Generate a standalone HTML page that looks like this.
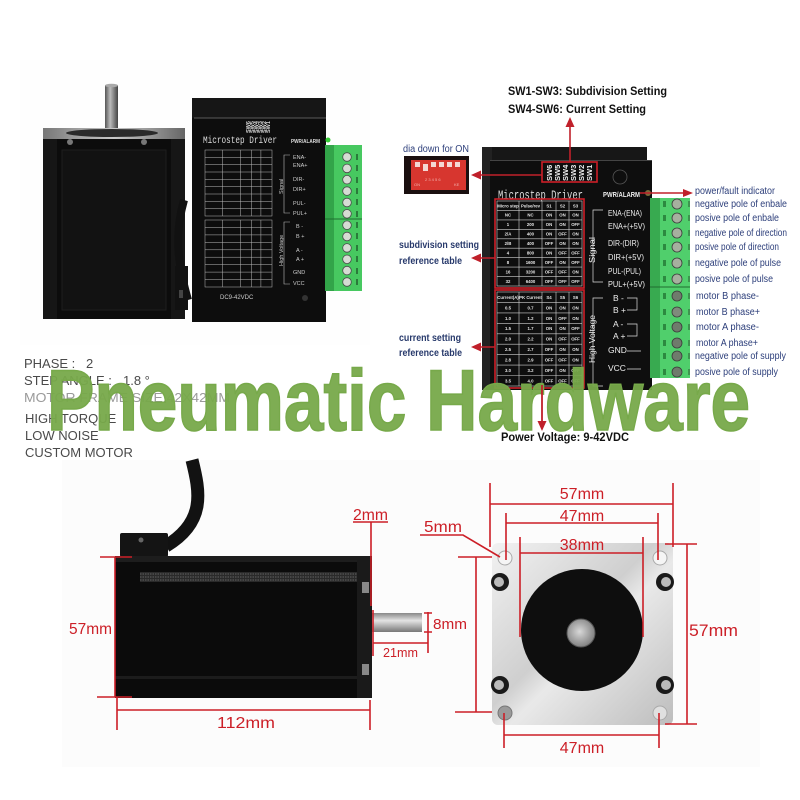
<!DOCTYPE html>
<html><head><meta charset="utf-8"><title>Stepper motor and driver</title>
<style>html,body{margin:0;padding:0;background:#fff}svg{display:block}</style></head>
<body>
<svg width="800" height="800" viewBox="0 0 800 800" xmlns="http://www.w3.org/2000/svg" font-family="Liberation Sans, Arial, sans-serif">
<defs>
  <linearGradient id="shaftV" x1="0" y1="0" x2="1" y2="0">
    <stop offset="0" stop-color="#555"/><stop offset="0.4" stop-color="#bbb"/><stop offset="1" stop-color="#444"/>
  </linearGradient>
  <linearGradient id="shaftH" x1="0" y1="0" x2="0" y2="1">
    <stop offset="0" stop-color="#888"/><stop offset="0.4" stop-color="#e4e4e4"/><stop offset="1" stop-color="#777"/>
  </linearGradient>
  <linearGradient id="plate" x1="0" y1="0" x2="1" y2="1">
    <stop offset="0" stop-color="#f2f2f2"/><stop offset="0.45" stop-color="#cfcfcf"/><stop offset="0.55" stop-color="#e9e9e9"/><stop offset="1" stop-color="#bdbdbd"/>
  </linearGradient>
  <radialGradient id="shaftEnd" cx="0.45" cy="0.45" r="0.6">
    <stop offset="0" stop-color="#d8d8d8"/><stop offset="1" stop-color="#7a7a7a"/>
  </radialGradient>
  <linearGradient id="rim" x1="0" y1="0" x2="1" y2="0">
    <stop offset="0" stop-color="#777"/><stop offset="0.5" stop-color="#c8c8c8"/><stop offset="1" stop-color="#666"/>
  </linearGradient>
</defs>
<rect width="800" height="800" fill="#fff"/>

<!-- faint photo panels -->
<rect x="20" y="60" width="350" height="285" fill="#fefefe"/>
<rect x="62" y="460" width="338" height="307" fill="#fcfcfc"/>
<rect x="400" y="460" width="360" height="307" fill="#fcfcfc"/>

<!-- ============ TOP-LEFT MOTOR ============ -->
<rect x="105" y="85" width="13" height="46" fill="url(#shaftV)"/>
<ellipse cx="111.5" cy="85.5" rx="6.5" ry="1.8" fill="#aaa"/>
<rect x="43" y="128" width="142" height="12" fill="url(#rim)"/>
<ellipse cx="112" cy="133" rx="46" ry="4" fill="#2a2a2a"/>
<rect x="43" y="139" width="142" height="180" fill="#0c0c0c"/>
<rect x="62" y="150" width="104" height="160" fill="#121212" stroke="#1e1e1e"/>
<rect x="43" y="139" width="14" height="180" fill="#161616"/>
<rect x="171" y="139" width="14" height="180" fill="#161616"/>
<circle cx="70" cy="142" r="3" fill="#777"/>
<circle cx="144" cy="142" r="3" fill="#777"/>
<path d="M184 200 C174 235 178 265 188 300" stroke="#111" stroke-width="8" fill="none"/>
<rect x="175" y="266" width="13" height="44" fill="#111"/>
<rect x="179" y="290" width="4" height="8" fill="#444"/>

<!-- ============ TOP-LEFT DRIVER ============ -->
<rect x="192" y="98" width="134" height="224" fill="#0d0d0d"/>
<rect x="192" y="98" width="134" height="20" fill="#161616"/>
<line x1="194" y1="118" x2="326" y2="118" stroke="#5a5a5a" stroke-width="1"/>
<g fill="#d8d8d8" font-size="5.5" font-weight="bold">
  <text transform="translate(250,133) rotate(-90)">SW6</text>
  <text transform="translate(254,133) rotate(-90)">SW5</text>
  <text transform="translate(258,133) rotate(-90)">SW4</text>
  <text transform="translate(262,133) rotate(-90)">SW3</text>
  <text transform="translate(266,133) rotate(-90)">SW2</text>
  <text transform="translate(270,133) rotate(-90)">SW1</text>
</g>
<text x="203" y="143" font-family="Liberation Mono, monospace" font-size="10" fill="#ddd" textLength="74" lengthAdjust="spacingAndGlyphs">Microstep Driver</text>
<text x="291" y="143" font-size="5.5" font-weight="bold" fill="#ddd" textLength="29" lengthAdjust="spacingAndGlyphs">PWR/ALARM</text>
<circle cx="328" cy="140" r="2.5" fill="#3c3"/>
<g stroke="#bbb" stroke-width="0.5" fill="none">
  <rect x="205" y="150" width="67" height="66"/>
  <path d="M205 157.3H272M205 164.7H272M205 172H272M205 179.3H272M205 186.7H272M205 194H272M205 201.3H272M205 208.7H272M222.3 150V216M240.4 150V216M251.4 150V216M260.9 150V216"/>
  <rect x="205" y="220" width="67" height="67"/>
  <path d="M205 227.4H272M205 234.9H272M205 242.3H272M205 249.8H272M205 257.2H272M205 264.7H272M205 272.1H272M205 279.6H272M222.3 220V287M240.4 220V287M251.4 220V287M260.9 220V287"/>
</g>
<g fill="#ccc" font-size="5.5">
  <text x="293" y="159">ENA-</text><text x="293" y="167">ENA+</text>
  <text x="293" y="181">DIR-</text><text x="293" y="191">DIR+</text>
  <text x="293" y="205">PUL-</text><text x="293" y="215">PUL+</text>
  <text x="296" y="228">B -</text><text x="296" y="238">B +</text>
  <text x="296" y="252">A -</text><text x="296" y="261">A +</text>
  <text x="293" y="274">GND</text><text x="293" y="285">VCC</text>
  <text x="220" y="299" font-size="6">DC9-42VDC</text>
</g>
<g stroke="#bbb" stroke-width="0.6" fill="none">
  <path d="M290 155H284V213H290M290 222H284V284H290"/>
</g>
<g fill="#ccc" font-size="5.5">
  <text transform="translate(283,194) rotate(-90)">Signal</text>
  <text transform="translate(283,266) rotate(-90)">High Voltage</text>
</g>
<circle cx="305" cy="298" r="3" fill="#333"/>
<!-- green block -->
<rect x="325" y="145" width="37" height="146" fill="#47c860"/>
<rect x="325" y="145" width="9" height="146" fill="#32a449"/>
<line x1="325" y1="219" x2="362" y2="219" stroke="#1f6e30" stroke-width="1"/>
<g fill="#d5dcd3" stroke="#4a4a4a" stroke-width="0.8">
  <circle cx="347" cy="157" r="4.3"/><circle cx="347" cy="168.4" r="4.3"/><circle cx="347" cy="179.7" r="4.3"/>
  <circle cx="347" cy="191.1" r="4.3"/><circle cx="347" cy="202.5" r="4.3"/><circle cx="347" cy="213.8" r="4.3"/>
  <circle cx="347" cy="225.2" r="4.3"/><circle cx="347" cy="236.5" r="4.3"/><circle cx="347" cy="247.9" r="4.3"/>
  <circle cx="347" cy="259.3" r="4.3"/><circle cx="347" cy="270.6" r="4.3"/><circle cx="347" cy="282" r="4.3"/>
</g>
<g fill="#2a7a3a">
  <rect x="356" y="154" width="2" height="6"/><rect x="356" y="165" width="2" height="6"/><rect x="356" y="177" width="2" height="6"/>
  <rect x="356" y="188" width="2" height="6"/><rect x="356" y="199" width="2" height="6"/><rect x="356" y="211" width="2" height="6"/>
  <rect x="356" y="222" width="2" height="6"/><rect x="356" y="233" width="2" height="6"/><rect x="356" y="245" width="2" height="6"/>
  <rect x="356" y="256" width="2" height="6"/><rect x="356" y="268" width="2" height="6"/><rect x="356" y="279" width="2" height="6"/>
</g>

<!-- ============ LEFT SPEC TEXT ============ -->
<g font-size="13" fill="#4a4a4a">
  <text x="24" y="368">PHASE :</text><text x="86" y="368">2</text>
  <text x="24" y="385">STEP ANGLE :</text><text x="123" y="385">1.8 °</text>
  <text x="24" y="402" fill="#9a9a9a" textLength="206" lengthAdjust="spacingAndGlyphs">MOTOR FRAME SIZE:42X42MM</text>
  <text x="25" y="423">HIGH TORQUE</text>
  <text x="25" y="440">LOW NOISE</text>
  <text x="25" y="457">CUSTOM MOTOR</text>
</g>

<!-- ============ TOP-RIGHT DRIVER ============ -->
<text x="508" y="95" font-size="11.5" font-weight="bold" fill="#111" textLength="159" lengthAdjust="spacingAndGlyphs">SW1-SW3: Subdivision Setting</text>
<text x="508" y="113" font-size="11.5" font-weight="bold" fill="#111" textLength="138" lengthAdjust="spacingAndGlyphs">SW4-SW6: Current Setting</text>

<text x="403" y="152" font-size="10" fill="#2c3e7a" textLength="66" lengthAdjust="spacingAndGlyphs">dia down for ON</text>
<!-- dip switch photo -->
<rect x="404" y="156" width="65" height="38" fill="#1a0f0f"/>
<rect x="411" y="160" width="55" height="30" fill="#d7362f"/>
<g fill="#f4d7d4">
  <rect x="415" y="162" width="5" height="5"/><rect x="423" y="164" width="5" height="7"/><rect x="431" y="162" width="5" height="5"/>
  <rect x="439" y="162" width="5" height="5"/><rect x="447" y="162" width="5" height="5"/><rect x="455" y="162" width="5" height="5"/>
</g>
<g fill="#f2b0aa" font-size="4">
  <text x="425" y="181">2 3 4 5 6</text><text x="414" y="186">ON</text><text x="454" y="186">KE</text>
</g>

<rect x="482" y="147" width="165" height="243" fill="#171717"/>
<rect x="482" y="147" width="10" height="243" fill="#222"/>
<rect x="490" y="160" width="162" height="230" fill="#0e0e0e"/>
<line x1="490" y1="160.5" x2="652" y2="160.5" stroke="#444"/>
<rect x="542" y="162" width="55" height="20" fill="none" stroke="#cc1f27" stroke-width="1.6"/>
<g fill="#eee" font-size="7.5" font-weight="bold">
  <text transform="translate(552,181) rotate(-90)">SW6</text>
  <text transform="translate(560,181) rotate(-90)">SW5</text>
  <text transform="translate(568,181) rotate(-90)">SW4</text>
  <text transform="translate(576,181) rotate(-90)">SW3</text>
  <text transform="translate(584,181) rotate(-90)">SW2</text>
  <text transform="translate(592,181) rotate(-90)">SW1</text>
</g>
<circle cx="620" cy="177" r="7" fill="none" stroke="#555" stroke-width="0.8"/>
<text x="498" y="199" font-family="Liberation Mono, monospace" font-size="12.5" fill="#ddd" textLength="85" lengthAdjust="spacingAndGlyphs">Microstep Driver</text>
<text x="603" y="197" font-size="7.5" font-weight="bold" fill="#eee" textLength="37" lengthAdjust="spacingAndGlyphs">PWR/ALARM</text>
<circle cx="648" cy="193" r="3" fill="#7a6a3a"/>

<!-- tables -->
<rect x="495" y="199" width="89" height="89" fill="none" stroke="#cc1f27" stroke-width="1.6"/>
<rect x="495" y="290" width="89" height="98" fill="none" stroke="#cc1f27" stroke-width="1.6"/>
<g stroke="#d0d0d0" stroke-width="0.6" fill="none">
  <rect x="497" y="201" width="85" height="85"/>
  <path d="M497 210.4H582M497 219.9H582M497 229.3H582M497 238.8H582M497 248.2H582M497 257.7H582M497 267.1H582M497 276.6H582M519 201V286M542 201V286M556 201V286M569 201V286"/>
  <rect x="497" y="292" width="85" height="94"/>
  <path d="M497 302.4H582M497 312.9H582M497 323.3H582M497 333.8H582M497 344.2H582M497 354.6H582M497 365.1H582M497 375.5H582M519 292V386M542 292V386M556 292V386M569 292V386"/>
</g>
<g fill="#e6e6e6" font-size="4.3" font-weight="bold" text-anchor="middle">
  <text y="207.3"><tspan x="508">Micro step</tspan><tspan x="530.5">Pulse/rev</tspan><tspan x="549">S1</tspan><tspan x="562.5">S2</tspan><tspan x="575.5">S3</tspan></text>
  <text y="216.7"><tspan x="508">NC</tspan><tspan x="530.5">NC</tspan><tspan x="549">ON</tspan><tspan x="562.5">ON</tspan><tspan x="575.5">ON</tspan></text>
  <text y="226.2"><tspan x="508">1</tspan><tspan x="530.5">200</tspan><tspan x="549">ON</tspan><tspan x="562.5">ON</tspan><tspan x="575.5">OFF</tspan></text>
  <text y="235.6"><tspan x="508">2/A</tspan><tspan x="530.5">400</tspan><tspan x="549">ON</tspan><tspan x="562.5">OFF</tspan><tspan x="575.5">ON</tspan></text>
  <text y="245.1"><tspan x="508">2/B</tspan><tspan x="530.5">400</tspan><tspan x="549">OFF</tspan><tspan x="562.5">ON</tspan><tspan x="575.5">ON</tspan></text>
  <text y="254.5"><tspan x="508">4</tspan><tspan x="530.5">800</tspan><tspan x="549">ON</tspan><tspan x="562.5">OFF</tspan><tspan x="575.5">OFF</tspan></text>
  <text y="264.0"><tspan x="508">8</tspan><tspan x="530.5">1600</tspan><tspan x="549">OFF</tspan><tspan x="562.5">ON</tspan><tspan x="575.5">OFF</tspan></text>
  <text y="273.4"><tspan x="508">16</tspan><tspan x="530.5">3200</tspan><tspan x="549">OFF</tspan><tspan x="562.5">OFF</tspan><tspan x="575.5">ON</tspan></text>
  <text y="282.9"><tspan x="508">32</tspan><tspan x="530.5">6400</tspan><tspan x="549">OFF</tspan><tspan x="562.5">OFF</tspan><tspan x="575.5">OFF</tspan></text>
  <text y="299.0"><tspan x="508">Current(A)</tspan><tspan x="530.5">PK Current</tspan><tspan x="549">S4</tspan><tspan x="562.5">S5</tspan><tspan x="575.5">S6</tspan></text>
  <text y="309.3"><tspan x="508">0.5</tspan><tspan x="530.5">0.7</tspan><tspan x="549">ON</tspan><tspan x="562.5">ON</tspan><tspan x="575.5">ON</tspan></text>
  <text y="319.8"><tspan x="508">1.0</tspan><tspan x="530.5">1.2</tspan><tspan x="549">ON</tspan><tspan x="562.5">OFF</tspan><tspan x="575.5">ON</tspan></text>
  <text y="330.2"><tspan x="508">1.5</tspan><tspan x="530.5">1.7</tspan><tspan x="549">ON</tspan><tspan x="562.5">ON</tspan><tspan x="575.5">OFF</tspan></text>
  <text y="340.6"><tspan x="508">2.0</tspan><tspan x="530.5">2.2</tspan><tspan x="549">ON</tspan><tspan x="562.5">OFF</tspan><tspan x="575.5">OFF</tspan></text>
  <text y="351.0"><tspan x="508">2.5</tspan><tspan x="530.5">2.7</tspan><tspan x="549">OFF</tspan><tspan x="562.5">ON</tspan><tspan x="575.5">ON</tspan></text>
  <text y="361.5"><tspan x="508">2.8</tspan><tspan x="530.5">2.9</tspan><tspan x="549">OFF</tspan><tspan x="562.5">OFF</tspan><tspan x="575.5">ON</tspan></text>
  <text y="371.9"><tspan x="508">3.0</tspan><tspan x="530.5">3.2</tspan><tspan x="549">OFF</tspan><tspan x="562.5">ON</tspan><tspan x="575.5">OFF</tspan></text>
  <text y="382.4"><tspan x="508">3.5</tspan><tspan x="530.5">4.0</tspan><tspan x="549">OFF</tspan><tspan x="562.5">OFF</tspan><tspan x="575.5">OFF</tspan></text>
</g>

<!-- signal labels -->
<g fill="#eee" font-size="8.5">
  <text x="608" y="216" textLength="34" lengthAdjust="spacingAndGlyphs">ENA-(ENA)</text>
  <text x="608" y="229" textLength="37" lengthAdjust="spacingAndGlyphs">ENA+(+5V)</text>
  <text x="608" y="246" textLength="31" lengthAdjust="spacingAndGlyphs">DIR-(DIR)</text>
  <text x="608" y="260" textLength="36" lengthAdjust="spacingAndGlyphs">DIR+(+5V)</text>
  <text x="608" y="274" textLength="33" lengthAdjust="spacingAndGlyphs">PUL-(PUL)</text>
  <text x="608" y="287" textLength="37" lengthAdjust="spacingAndGlyphs">PUL+(+5V)</text>
  <text x="613" y="301">B -</text>
  <text x="613" y="313">B +</text>
  <text x="613" y="327">A -</text>
  <text x="613" y="339">A +</text>
  <text x="608" y="353">GND</text>
  <text x="608" y="371">VCC</text>
</g>
<g stroke="#ddd" stroke-width="0.7" fill="none">
  <path d="M603 210H593V282H603"/>
  <path d="M603 298H593V386H603"/>
  <path d="M627 298H637V310H627M627 324H637V336H627"/>
  <path d="M627 351H641M627 369H641"/>
</g>
<g fill="#eee" font-size="8.5">
  <text transform="translate(595,263) rotate(-90)" textLength="26" lengthAdjust="spacingAndGlyphs">Signal</text>
  <text transform="translate(595,363) rotate(-90)" textLength="48" lengthAdjust="spacingAndGlyphs">High Voltage</text>
</g>

<!-- right green block -->
<rect x="650" y="198" width="40" height="180" fill="#50cf6c"/>
<rect x="650" y="198" width="10" height="180" fill="#38aa50"/>
<line x1="650" y1="287" x2="690" y2="287" stroke="#1f6e30" stroke-width="1"/>
<g fill="#2c8a40">
  <rect x="663" y="201" width="3" height="6"/><rect x="663" y="215" width="3" height="6"/><rect x="663" y="230" width="3" height="6"/>
  <rect x="663" y="244" width="3" height="6"/><rect x="663" y="260" width="3" height="6"/><rect x="663" y="276" width="3" height="6"/>
  <rect x="663" y="293" width="3" height="6"/><rect x="663" y="309" width="3" height="6"/><rect x="663" y="324" width="3" height="6"/>
  <rect x="663" y="340" width="3" height="6"/><rect x="663" y="353" width="3" height="6"/><rect x="663" y="369" width="3" height="6"/>
</g>
<g stroke="#3a3a3a" stroke-width="0.8">
  <circle cx="677" cy="204" r="5" fill="#a6b09f"/><circle cx="677" cy="218" r="5" fill="#a6b09f"/><circle cx="677" cy="233" r="5" fill="#a6b09f"/>
  <circle cx="677" cy="247" r="5" fill="#a6b09f"/><circle cx="677" cy="263" r="5" fill="#a6b09f"/><circle cx="677" cy="279" r="5" fill="#a6b09f"/>
  <circle cx="677" cy="296" r="5" fill="#6f7b6c"/><circle cx="677" cy="312" r="5" fill="#7f8b7c"/><circle cx="677" cy="327" r="5" fill="#6f7b6c"/>
  <circle cx="677" cy="343" r="5" fill="#6f7b6c"/><circle cx="677" cy="356" r="5" fill="#6f7b6c"/><circle cx="677" cy="372" r="5" fill="#6f7b6c"/>
</g>
<g stroke="#2d5a35" stroke-width="1" fill="none">
  <path d="M689 201v6M689 215v6M689 230v6M689 244v6M689 260v6M689 276v6M689 293v6M689 309v6M689 324v6M689 340v6M689 353v6M689 369v6"/>
</g>

<!-- right labels -->
<g fill="#2c3e7a" font-size="10">
  <text x="695" y="194" textLength="80" lengthAdjust="spacingAndGlyphs">power/fault indicator</text>
  <text x="695" y="207" textLength="92" lengthAdjust="spacingAndGlyphs">negative pole of enbale</text>
  <text x="695" y="221" textLength="84" lengthAdjust="spacingAndGlyphs">posive pole of enbale</text>
  <text x="695" y="236" textLength="92" lengthAdjust="spacingAndGlyphs">negative pole of direction</text>
  <text x="695" y="250" textLength="84" lengthAdjust="spacingAndGlyphs">posive pole of direction</text>
  <text x="695" y="266" textLength="86" lengthAdjust="spacingAndGlyphs">negative pole of pulse</text>
  <text x="695" y="282" textLength="78" lengthAdjust="spacingAndGlyphs">posive pole of pulse</text>
  <text x="696" y="299" textLength="63" lengthAdjust="spacingAndGlyphs">motor B phase-</text>
  <text x="696" y="315" textLength="64" lengthAdjust="spacingAndGlyphs">motor B phase+</text>
  <text x="696" y="330" textLength="63" lengthAdjust="spacingAndGlyphs">motor A phase-</text>
  <text x="696" y="346" textLength="62" lengthAdjust="spacingAndGlyphs">motor A phase+</text>
  <text x="695" y="359" textLength="91" lengthAdjust="spacingAndGlyphs">negative pole of supply</text>
  <text x="695" y="375" textLength="83" lengthAdjust="spacingAndGlyphs">posive pole of supply</text>
</g>

<!-- left labels -->
<g fill="#283a6c" font-size="10" font-weight="bold">
  <text x="399" y="248" textLength="80" lengthAdjust="spacingAndGlyphs">subdivision setting</text>
  <text x="399" y="264" textLength="63" lengthAdjust="spacingAndGlyphs">reference table</text>
  <text x="399" y="341" textLength="62" lengthAdjust="spacingAndGlyphs">current setting</text>
  <text x="399" y="356" textLength="63" lengthAdjust="spacingAndGlyphs">reference table</text>
</g>

<!-- red arrows (top right) -->
<g stroke="#c0202a" stroke-width="1.6" fill="none">
  <path d="M570 162V124"/>
  <path d="M542 175H478"/>
  <path d="M495 258H478"/>
  <path d="M495 347H478"/>
  <path d="M640 193H686"/>
</g>
<g fill="#c0202a">
  <path d="M570 117L565.5 127H574.5Z"/>
  <path d="M471 175L481 170.5V179.5Z"/>
  <path d="M471 258L481 253.5V262.5Z"/>
  <path d="M471 347L481 342.5V351.5Z"/>
  <path d="M693 193L683 189V197Z"/>
</g>

<!-- ============ WATERMARK ============ -->
<text x="47" y="430" font-size="86" font-weight="bold" fill="#77a94a" stroke="#77a94a" stroke-width="1.6" fill-opacity="0.95" textLength="703" lengthAdjust="spacingAndGlyphs">Pneumatic Hardware</text>

<!-- power voltage arrow (over watermark) -->
<path d="M542 385V423" stroke="#c0202a" stroke-width="1.8"/>
<path d="M542 431L537.5 421H546.5Z" fill="#c0202a"/>
<text x="501" y="441" font-size="11.5" font-weight="bold" fill="#111" textLength="128" lengthAdjust="spacingAndGlyphs">Power Voltage: 9-42VDC</text>

<!-- ============ BOTTOM-LEFT SIDE VIEW ============ -->
<path d="M192 460 C200 492 206 522 166 546" stroke="#121212" stroke-width="13" fill="none"/>
<rect x="120" y="533" width="48" height="24" rx="2" fill="#141414"/>
<circle cx="141" cy="540" r="2.5" fill="#666"/>
<rect x="115" y="556" width="257" height="142" fill="#0b0b0b"/>
<rect x="115" y="556" width="257" height="6" fill="#1d1d1d"/>
<rect x="140" y="572" width="217" height="10" fill="#2a2a2a"/>
<path d="M140 574H357M140 577H357M140 580H357" stroke="#777" stroke-width="0.8" stroke-dasharray="1.5 1"/>
<rect x="115" y="676" width="257" height="3" fill="#1c1c1c"/>
<rect x="357" y="560" width="15" height="138" fill="#1a1a1a"/>
<rect x="362" y="582" width="7" height="11" fill="#888"/>
<rect x="362" y="664" width="7" height="11" fill="#888"/>
<rect x="372" y="613" width="50" height="19" fill="url(#shaftH)"/>

<!-- bottom-left dims -->
<g stroke="#cc1f27" stroke-width="1.6" fill="none">
  <path d="M100 557H132M97 697H132M115 557V697"/>
  <path d="M117 697V730M370 700V730M117 710H370"/>
  <path d="M353 522H388M371 522V606"/>
  <path d="M424 613H432M424 632H432M428 612V653"/>
  <path d="M373 610V656M373 643H428"/>
</g>
<g fill="#cc1f27" font-size="16">
  <text x="69" y="634" textLength="43" lengthAdjust="spacingAndGlyphs">57mm</text>
  <text x="217" y="728" textLength="58" lengthAdjust="spacingAndGlyphs">112mm</text>
  <text x="353" y="520" textLength="35" lengthAdjust="spacingAndGlyphs">2mm</text>
  <text x="433" y="629" font-size="15" textLength="34" lengthAdjust="spacingAndGlyphs">8mm</text>
  <text x="383" y="657" font-size="13" textLength="35" lengthAdjust="spacingAndGlyphs">21mm</text>
</g>

<!-- ============ BOTTOM-RIGHT FRONT VIEW ============ -->
<rect x="492" y="543" width="181" height="182" rx="6" fill="url(#plate)"/>
<circle cx="582" cy="630" r="61" fill="#0e0e0e"/>
<circle cx="581" cy="633" r="14" fill="url(#shaftEnd)" stroke="#555"/>
<g>
  <circle cx="505" cy="558" r="7" fill="#f5f5f5" stroke="#aaa"/>
  <circle cx="660" cy="558" r="7" fill="#f5f5f5" stroke="#aaa"/>
  <circle cx="505" cy="713" r="7" fill="#9a9a9a" stroke="#777"/>
  <circle cx="660" cy="713" r="7" fill="#e0e0e0" stroke="#aaa"/>
</g>
<g fill="#1a1a1a">
  <circle cx="500" cy="582" r="9"/><circle cx="500" cy="685" r="9"/>
  <circle cx="665" cy="582" r="9"/><circle cx="665" cy="685" r="9"/>
</g>
<g fill="#bbb">
  <circle cx="499" cy="582" r="5"/><circle cx="499" cy="685" r="5"/>
  <circle cx="666" cy="582" r="5"/><circle cx="666" cy="685" r="5"/>
</g>

<!-- bottom-right dims -->
<g stroke="#cc1f27" stroke-width="1.6" fill="none">
  <path d="M490 483V547M673 483V547M490 504H673"/>
  <path d="M506 513V560M658 513V560M506 523H658"/>
  <path d="M520 537V637M643 537V637M520 553H643"/>
  <path d="M420 535H463L500 557"/>
  <path d="M458 557H492M455 712H492M476 557V712"/>
  <path d="M665 544H697M665 724H697M687 544V724"/>
  <path d="M504 713V748M659 713V748M504 735H659"/>
</g>
<g fill="#cc1f27" font-size="16" text-anchor="middle">
  <text x="582" y="499">57mm</text>
  <text x="582" y="521">47mm</text>
  <text x="582" y="550">38mm</text>
  <text x="582" y="753">47mm</text>
</g>
<g fill="#cc1f27" font-size="16">
  <text x="424" y="532" textLength="38" lengthAdjust="spacingAndGlyphs">5mm</text>
  <text x="689" y="636" font-size="17" textLength="49" lengthAdjust="spacingAndGlyphs">57mm</text>
</g>
</svg>
</body></html>
